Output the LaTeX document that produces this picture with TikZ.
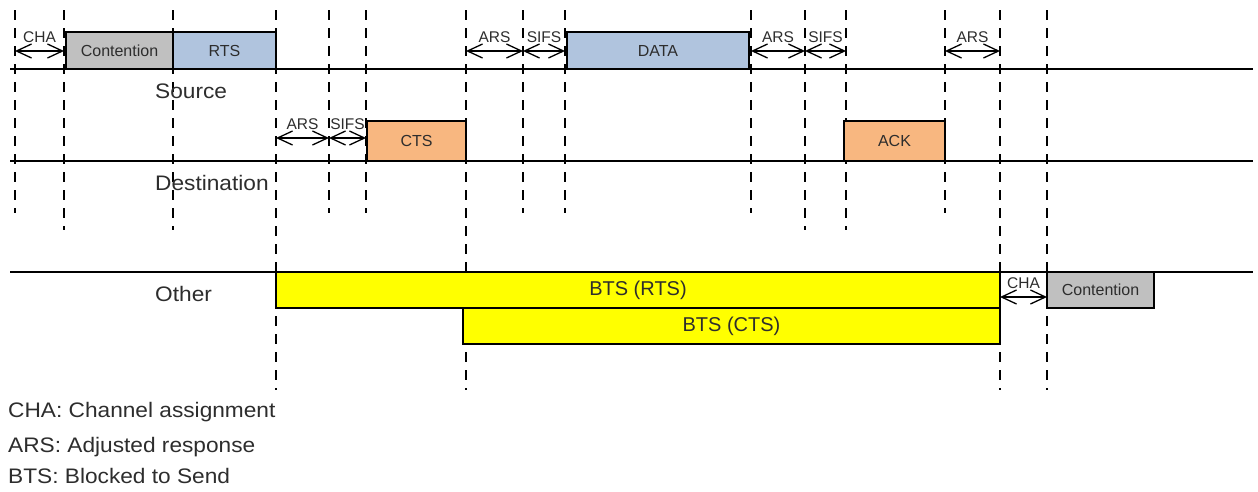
\documentclass[tikz,border=0pt]{standalone}
\usepackage{fontspec}
\setmainfont{Liberation Sans}
\newfontfamily\widesans[FakeStretch=1.08]{Liberation Sans}
\usetikzlibrary{arrows.meta}
\definecolor{ctlblue}{RGB}{176,196,222}
\definecolor{ctsorange}{RGB}{248,183,128}
\definecolor{contgray}{RGB}{192,192,192}
\definecolor{btsyellow}{RGB}{255,255,0}
\definecolor{textgray}{RGB}{45,45,45}
\begin{document}
\begin{tikzpicture}[x=1pt,y=-1pt,
  guide/.style={line width=1.4pt, dash pattern=on 10pt off 8pt},
  axis/.style={line width=1.4pt},
  pkt/.style={draw=black, line width=1.4pt, inner sep=0pt, outer sep=0pt,
    anchor=south west, text=textgray, font=\fontsize{16}{19}\selectfont},
  gap/.style={line width=1.3pt,
    {Straight Barb[length=15pt,width=14pt,line width=1.3pt]}-{Straight Barb[length=15pt,width=14pt,line width=1.3pt]}},
  gaplabel/.style={font=\fontsize{15.5}{18}\selectfont, text=textgray,
    anchor=base, inner sep=0pt, yshift=9pt},
  rowlabel/.style={font=\widesans\fontsize{21}{25}\selectfont, text=textgray,
    anchor=base west, inner sep=0pt},
  btslabel/.style={font=\fontsize{20}{24}\selectfont},
]
\useasboundingbox (0,0) rectangle (1258,491);

% time marks (top of each guide line)
\coordinate (t1)  at (15,10);
\coordinate (t2)  at (64,10);
\coordinate (t3)  at (173,10);
\coordinate (t4)  at (276,10);
\coordinate (t5)  at (329,10);
\coordinate (t6)  at (366,10);
\coordinate (t7)  at (466,10);
\coordinate (t8)  at (523,10);
\coordinate (t9)  at (565,10);
\coordinate (t10) at (751,10);
\coordinate (t11) at (805,10);
\coordinate (t12) at (846,10);
\coordinate (t13) at (945,10);
\coordinate (t14) at (1000,10);
\coordinate (t15) at (1047,10);

% guide line ends
\coordinate (shortEnd) at (0,213);
\coordinate (midEnd)   at (0,230);
\coordinate (longEnd)  at (0,390);

% rows of interval arrows
\coordinate (srcGap) at (0,51);
\coordinate (dstGap) at (0,138);
\coordinate (othGap) at (0,297);

% dashed time guides
\foreach \t in {t1,t5,t6,t8,t9,t10,t13}
  \draw[guide] (\t) -- (\t |- shortEnd);
\foreach \t in {t2,t3,t11,t12}
  \draw[guide] (\t) -- (\t |- midEnd);
\foreach \t in {t4,t7,t14,t15}
  \draw[guide] (\t) -- (\t |- longEnd);

% station time axes
\coordinate (srcL) at (10,69);   \coordinate (srcR) at (1253,69);
\coordinate (dstL) at (10,161);  \coordinate (dstR) at (1253,161);
\coordinate (othL) at (10,272);  \coordinate (othR) at (1253,272);
\draw[axis] (srcL) -- (srcR);
\draw[axis] (dstL) -- (dstR);
\draw[axis] (othL) -- (othR);

% source frames
\node[pkt, fill=contgray, minimum width=107pt, minimum height=37pt] (contA) at (66,69) {Contention};
\node[pkt, fill=ctlblue, minimum width=103pt, minimum height=37pt] (rts) at (173,69) {RTS};
\node[pkt, fill=ctlblue, minimum width=182pt, minimum height=37pt] (data) at (567,69) {DATA};

% destination frames
\node[pkt, fill=ctsorange, minimum width=99pt, minimum height=40pt] (cts) at (367,161) {CTS};
\node[pkt, fill=ctsorange, minimum width=101pt, minimum height=40pt] (ack) at (844,161) {ACK};

% blocked periods of the other stations
\node[pkt, btslabel, fill=btsyellow, minimum width=724pt, minimum height=36pt] (btsr) at (276,308) {BTS (RTS)};
\node[pkt, btslabel, fill=btsyellow, minimum width=537pt, minimum height=36pt] (btsc) at (463,344) {BTS (CTS)};
\node[pkt, fill=contgray, minimum width=107pt, minimum height=36pt] (contB) at (1047,308) {Contention};

% interval arrows
\draw[gap] (t1 |- srcGap) -- node[gaplabel]{CHA} (t2 |- srcGap);
\draw[gap] (t7 |- srcGap) -- node[gaplabel]{ARS} (t8 |- srcGap);
\draw[gap] (t8 |- srcGap) -- node[gaplabel]{SIFS} (t9 |- srcGap);
\draw[gap] (t10 |- srcGap) -- node[gaplabel]{ARS} (t11 |- srcGap);
\draw[gap] (t11 |- srcGap) -- node[gaplabel]{SIFS} (t12 |- srcGap);
\draw[gap] (t13 |- srcGap) -- node[gaplabel]{ARS} (t14 |- srcGap);
\draw[gap] (t4 |- dstGap) -- node[gaplabel]{ARS} (t5 |- dstGap);
\draw[gap] (t5 |- dstGap) -- node[gaplabel]{SIFS} (t6 |- dstGap);
\draw[gap] (t14 |- othGap) -- node[gaplabel]{CHA} (t15 |- othGap);

% row names
\node[rowlabel] (lsrc) at (155,98) {Source};
\node[rowlabel] (ldst) at (155,190) {Destination};
\node[rowlabel] (loth) at (155,301) {Other};

% legend
\node[rowlabel] (leg1) at (8,417) {CHA: Channel assignment};
\node[rowlabel] (leg2) at (8,452) {ARS: Adjusted response};
\node[rowlabel] (leg3) at (8,483) {BTS: Blocked to Send};
\end{tikzpicture}
\end{document}
